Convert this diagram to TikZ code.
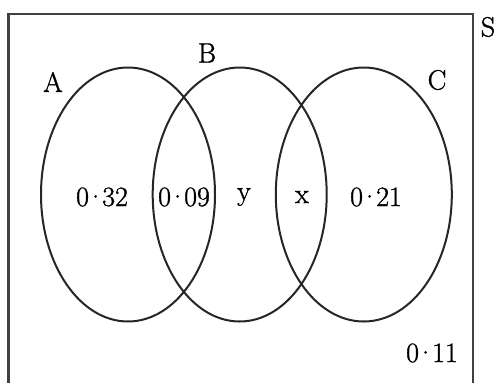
\documentclass[tikz,border=0pt]{standalone}
\usepackage{fontspec}
\newfontfamily\lblfont{Latin Modern Roman}[FakeBold=1.2]
\newcommand{\dt}{\kern-3.5pt·\kern-3.5pt}
\begin{document}
\begin{tikzpicture}[x=1pt,y=-1pt,
  lbl/.style={inner sep=0pt,font=\lblfont\fontsize{28}{31}\selectfont},
  setline/.style={line width=2pt,draw=black!85}]
\useasboundingbox (0,0) rectangle (497,383);
\fill[white] (0,0) rectangle (497,383);
\draw[line width=2.2pt,draw=black!75] (8.5,383) -- (8.5,14) -- (473,14) -- (473,383);
\draw[setline] (128,194.5) ellipse [x radius=87, y radius=127];
\draw[setline] (239.7,194.5) ellipse [x radius=87, y radius=127];
\draw[setline] (363.8,194.5) ellipse [x radius=88, y radius=127];
\node[lbl] (S) at (488,27) {S};
\node[lbl] (A) at (53,82) {A};
\node[lbl] (B) at (207,53) {B};
\node[lbl] (C) at (437,80) {C};
\node[lbl] (a) at (102,197) {0\dt32};
\node[lbl] (ab) at (184,197) {0\dt09};
\node[lbl] (y) at (244,197) {y};
\node[lbl] (x) at (302,197) {x};
\node[lbl] (c) at (376,197) {0\dt21};
\node[lbl] (o) at (432,353) {0\dt11};
\end{tikzpicture}
\end{document}
